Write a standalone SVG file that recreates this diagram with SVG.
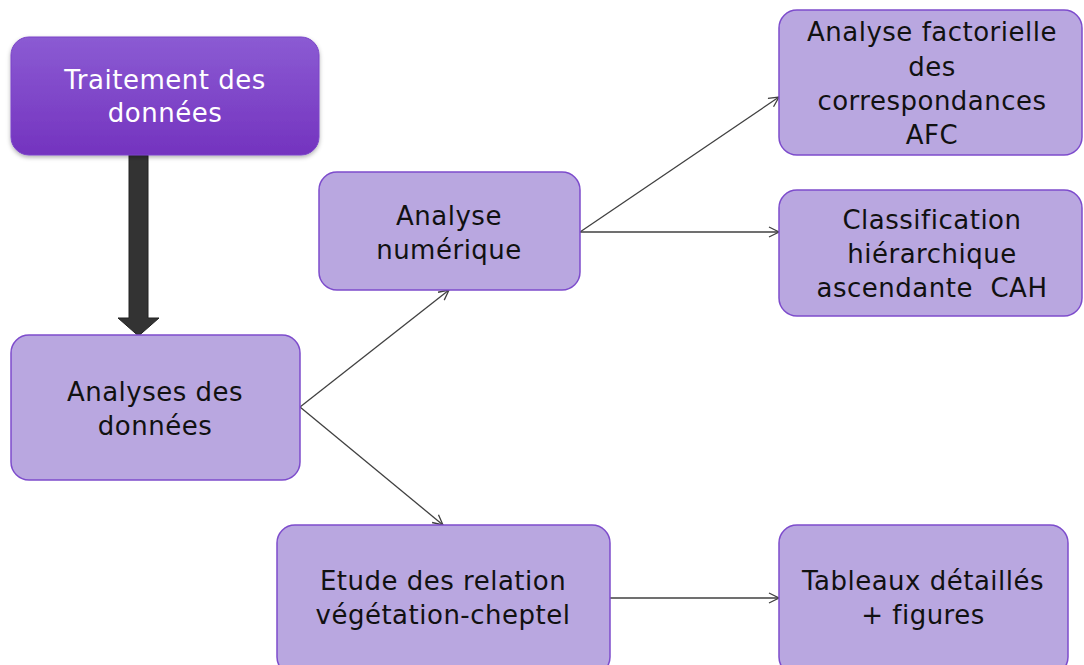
<svg xmlns="http://www.w3.org/2000/svg" width="1084" height="665" viewBox="0 0 1084 665">
<defs>
<linearGradient id="g1" x1="0" y1="0" x2="0" y2="1">
<stop offset="0" stop-color="#8b5bd3"/>
<stop offset="1" stop-color="#7433bf"/>
</linearGradient>
<filter id="sh" x="-10%" y="-10%" width="120%" height="130%">
<feDropShadow dx="0" dy="2" stdDeviation="2" flood-color="#000" flood-opacity="0.3"/>
</filter>
<marker id="ah" viewBox="0 0 12 12" refX="11" refY="6" markerWidth="12" markerHeight="12" markerUnits="userSpaceOnUse" orient="auto">
<path d="M1,1 L11,6 L1,11" fill="none" stroke="#404040" stroke-width="1.3"/>
</marker>
<style>
.box{fill:#b9a7e0;stroke:#7d4ccc;stroke-width:1.5}
.t{font-family:"DejaVu Sans","Liberation Sans",sans-serif;font-size:26px;letter-spacing:0.5px;fill:#111;text-anchor:middle;white-space:pre}
.w{fill:#fff}
.c{stroke:#404040;stroke-width:1.3;fill:none;marker-end:url(#ah)}
</style>
</defs>
<rect width="1084" height="665" fill="#fff"/>
<g id="connectors">
<path d="M129,155 V318 H118 L138.5,336 L159,318 H148 V155 Z" fill="#333" stroke="#222" stroke-width="1"/>
<line class="c" x1="300" y1="407" x2="449" y2="290"/>
<line class="c" x1="300" y1="407" x2="443" y2="525"/>
<line class="c" x1="580" y1="232" x2="779" y2="97"/>
<line class="c" x1="580" y1="232" x2="779" y2="232"/>
<line class="c" x1="610" y1="598" x2="779" y2="598"/>
</g>
<g id="n1">
<rect x="11" y="37" width="308" height="118" rx="18" fill="url(#g1)" stroke="#7a45c8" stroke-width="1" filter="url(#sh)"/>
<text class="t w" x="165" y="89">Traitement des</text>
<text class="t w" x="165" y="122">données</text>
</g>
<g id="n2">
<rect class="box" x="11" y="335" width="289" height="145" rx="18"/>
<text class="t" x="155" y="401">Analyses des</text>
<text class="t" x="155" y="435">données</text>
</g>
<g id="n3">
<rect class="box" x="319" y="172" width="261" height="118" rx="18"/>
<text class="t" x="449" y="225">Analyse</text>
<text class="t" x="449" y="259">numérique</text>
</g>
<g id="n4">
<rect class="box" x="779" y="10" width="303" height="145" rx="18"/>
<text class="t" x="932" y="41">Analyse factorielle</text>
<text class="t" x="932" y="76">des</text>
<text class="t" x="932" y="110">correspondances</text>
<text class="t" x="932" y="144">AFC</text>
</g>
<g id="n5">
<rect class="box" x="779" y="190" width="303" height="126" rx="18"/>
<text class="t" x="932" y="229">Classification</text>
<text class="t" x="932" y="263">hiérarchique</text>
<text class="t" x="932" y="297" xml:space="preserve">ascendante  CAH</text>
</g>
<g id="n6">
<rect class="box" x="277" y="525" width="333" height="150" rx="18"/>
<text class="t" x="443" y="590">Etude des relation</text>
<text class="t" x="443" y="624">végétation-cheptel</text>
</g>
<g id="n7">
<rect class="box" x="779" y="525" width="289" height="150" rx="18"/>
<text class="t" x="923" y="590">Tableaux détaillés</text>
<text class="t" x="923" y="624">+ figures</text>
</g>
</svg>
